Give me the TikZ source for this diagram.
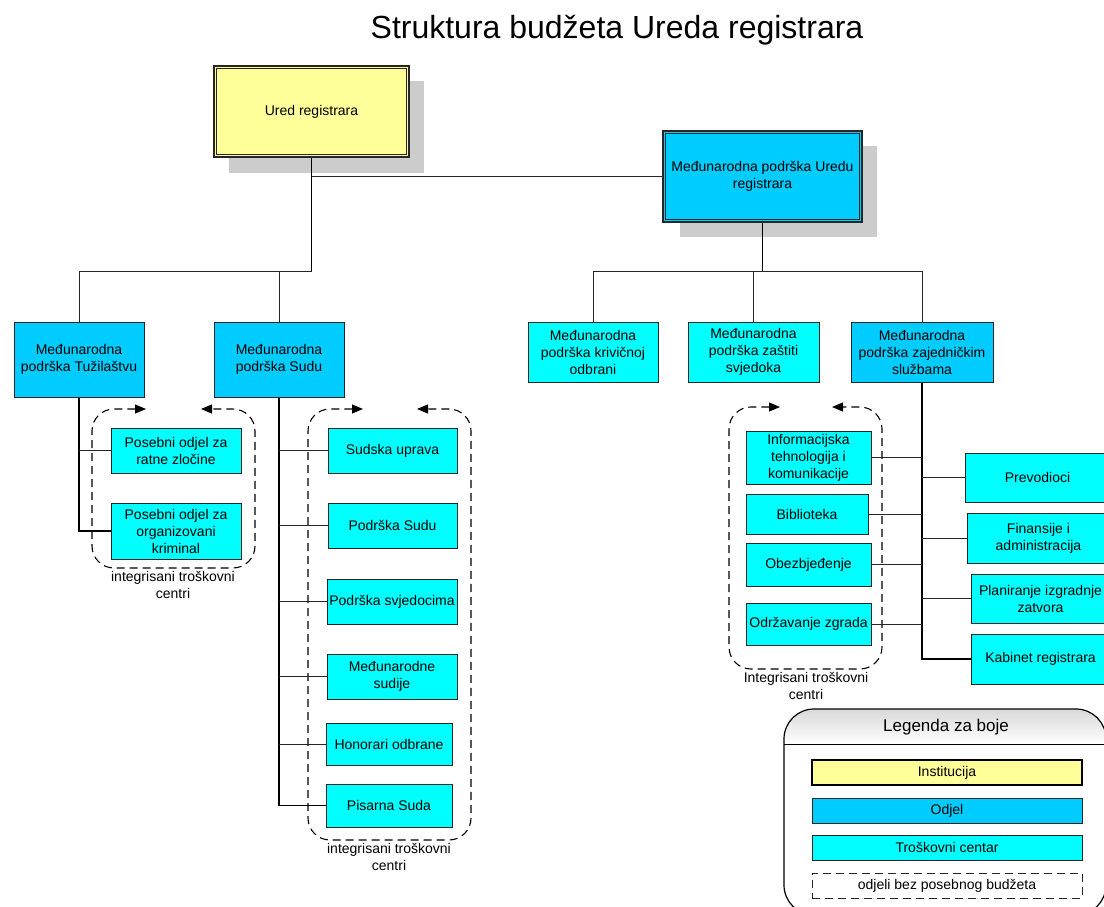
\documentclass[tikz,border=0pt]{standalone}
\usepackage{fontspec}
\setmainfont{Liberation Sans}
\usetikzlibrary{arrows.meta}
\definecolor{instc}{HTML}{FFFF99}
\definecolor{odjc}{HTML}{00CCFF}
\definecolor{trosc}{HTML}{00FFFF}
\definecolor{shc}{HTML}{CCCCCC}
\begin{document}
\begin{tikzpicture}[x=1pt,y=-1pt,
  bx/.style={draw=black!85, line width=1pt, inner sep=0pt, align=center, font=\fontsize{14}{17}\selectfont},
  instbox/.style={bx, fill=instc},
  odjbox/.style={bx, fill=odjc},
  trbox/.style={bx, fill=trosc},
  conn/.style={draw=black!85, line width=1pt},
  trunk/.style={draw=black, line width=1.3pt},
  frame/.style={draw=black, dash pattern=on 8pt off 5pt, line width=1.1pt, rounded corners=22pt, {Triangle[length=11pt,width=9pt]}-{Triangle[length=11pt,width=9pt]}},
  lab/.style={align=center, font=\fontsize{14}{17}\selectfont, inner sep=0pt},
  inner/.style={draw=black!85, line width=1pt}
]
\useasboundingbox (0,0) rectangle (1104,906);
\clip (0,0) rectangle (1104,906);

% title
\node[font=\fontsize{32}{38}\selectfont] (title) at (617,30) {Struktura budžeta Ureda registrara};

% frames
\draw[frame] (146,409) -- (92,409) -- (92,568) -- (255,568) -- (255,409) -- (201,409);
\draw[frame] (363,409) -- (308,409) -- (308,840) -- (471,840) -- (471,409) -- (417,409);
\draw[frame] (780,407) -- (729,407) -- (729,669) -- (882,669) -- (882,407) -- (832,407);

% shadows
\fill[shc] (229,81) rectangle (424,173);
\fill[shc] (680,146) rectangle (877,237);

% top boxes
\node[instbox, line width=1.2pt, minimum width=195, minimum height=91] (ured) at (311.5,111.5) {Ured registrara};
\draw[inner] ([shift={(3,3)}]ured.north west) rectangle ([shift={(-3,-3)}]ured.south east);
\node[odjbox, line width=1.2pt, minimum width=199, minimum height=91] (uredu) at (762.5,176.5) {Međunarodna podrška Uredu\\registrara};
\draw[inner] ([shift={(3,3)}]uredu.north west) rectangle ([shift={(-3,-3)}]uredu.south east);

% second row
\node[odjbox, minimum width=130, minimum height=75] (tuz) at (79,359.5) {Međunarodna\\podrška Tužilaštvu};
\node[odjbox, minimum width=130, minimum height=75] (sudu) at (279,359.5) {Međunarodna\\podrška Sudu};
\node[trbox, minimum width=130, minimum height=60] (kriv) at (593,352) {Međunarodna\\podrška krivičnoj\\odbrani};
\node[trbox, minimum width=131, minimum height=60] (zast) at (753.5,352) {Međunarodna\\podrška zaštiti\\svjedoka};
\node[odjbox, minimum width=142, minimum height=60] (zaj) at (922,352) {Međunarodna\\podrška zajedničkim\\službama};

% tuzilastvo children
\node[trbox, minimum width=130, minimum height=45] (pos1) at (176,450.5) {Posebni odjel za\\ratne zločine};
\node[trbox, minimum width=130, minimum height=56] (pos2) at (176,531) {Posebni odjel za\\organizovani\\kriminal};

% sud children
\node[trbox, minimum width=129, minimum height=45] (sud1) at (392.5,450.5) {Sudska uprava};
\node[trbox, minimum width=129, minimum height=45] (sud2) at (392.5,525.5) {Podrška Sudu};
\node[trbox, minimum width=130, minimum height=45] (sud3) at (392,601.5) {Podrška svjedocima};
\node[trbox, minimum width=130, minimum height=45] (sud4) at (392,676.5) {Međunarodne\\sudije};
\node[trbox, minimum width=126, minimum height=42] (sud5) at (389,744) {Honorari odbrane};
\node[trbox, minimum width=126, minimum height=43] (sud6) at (389,805.5) {Pisarna Suda};

% zajednicke children left
\node[trbox, minimum width=125, minimum height=53] (it) at (808.5,457.5) {Informacijska\\tehnologija i\\komunikacije};
\node[trbox, minimum width=122, minimum height=40] (bib) at (807,514) {Biblioteka};
\node[trbox, minimum width=125, minimum height=43] (obez) at (808.5,564.5) {Obezbjeđenje};
\node[trbox, minimum width=125, minimum height=42] (odrz) at (808.5,624) {Održavanje zgrada};

% zajednicke children right
\node[trbox, minimum width=145, minimum height=49] (prev) at (1037.5,477.5) {Prevodioci};
\node[trbox, minimum width=143, minimum height=50] (fin) at (1038.5,538) {Finansije i\\administracija};
\node[trbox, minimum width=139, minimum height=49] (plan) at (1040.5,598.5) {Planiranje izgradnje\\zatvora};
\node[trbox, minimum width=139, minimum height=50] (kab) at (1040.5,659) {Kabinet registrara};

% labels
\node[lab] (lab1) at (173,584.5) {integrisani troškovni\\centri};
\node[lab] (lab2) at (389,856.5) {integrisani troškovni\\centri};
\node[lab] (lab3) at (806,685.5) {Integrisani troškovni\\centri};

% connectors
\coordinate (jl) at (311.5,271);
\coordinate (jr) at (762.5,271);
\draw[trunk] (ured.south) -- (jl);
\draw[conn] (jl) -| (tuz.north);
\draw[conn] (jl) -| (sudu.north);
\draw[conn] (ured.south |- uredu.west) -- (uredu.west);
\draw[trunk] (uredu.south) -- (jr);
\draw[conn] (jr) -| (kriv.north);
\draw[conn] (jr) -| (zast.north);
\draw[conn] (jr) -| (zaj.north);

\draw[trunk] (tuz.south) |- (pos2.west);
\draw[conn] (tuz.south |- pos1.west) -- (pos1.west);

\draw[trunk] (sudu.south) |- (sud6.west);
\foreach \n in {sud1,sud2,sud3,sud4,sud5}{
  \draw[conn] (sudu.south |- \n.west) -- (\n.west);
}

\draw[trunk] (zaj.south) |- (kab.west);
\foreach \n in {it,bib,obez,odrz}{
  \draw[conn] (zaj.south |- \n.east) -- (\n.east);
}
\foreach \n in {prev,fin,plan}{
  \draw[conn] (zaj.south |- \n.west) -- (\n.west);
}

% legend
\begin{scope}
\clip[rounded corners=30pt] (784,709) rectangle (1106,915);
\shade[top color=black!15, bottom color=white] (784,709) rectangle (1106,744);
\end{scope}
\draw[line width=1.2pt, rounded corners=30pt] (784,709) rectangle (1106,915);
\draw[line width=1pt] (784,744) -- (1106,744);
\node[font=\fontsize{17}{20}\selectfont] (legt) at (946,727) {Legenda za boje};
\node[instbox, line width=2pt, draw=black, minimum width=270, minimum height=25] (lg1) at (947,772.5) {Institucija};
\node[odjbox, minimum width=270, minimum height=25] (lg2) at (947,810.5) {Odjel};
\node[trbox, minimum width=270, minimum height=25] (lg3) at (947,847.5) {Troškovni centar};
\node[bx, dash pattern=on 8pt off 5pt, minimum width=270, minimum height=25] (lg4) at (947,885.5) {odjeli bez posebnog budžeta};
\end{tikzpicture}
\end{document}
